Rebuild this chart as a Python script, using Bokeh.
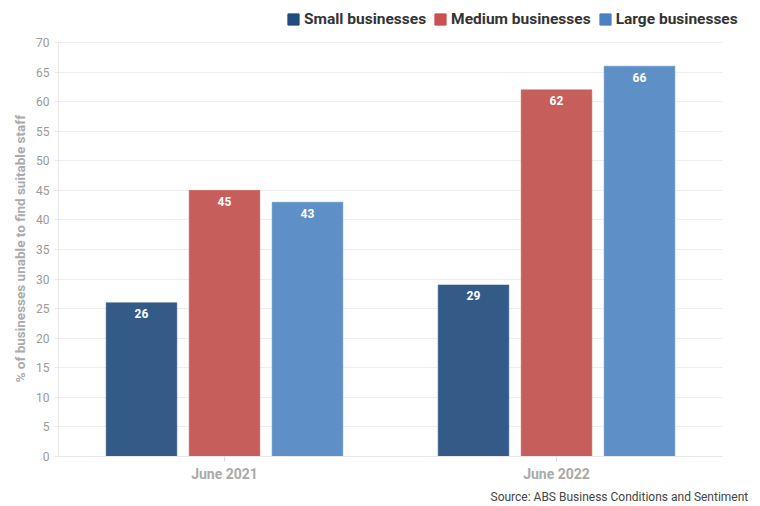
from bokeh.plotting import figure
from bokeh.models import (ColumnDataSource, Range1d, Legend, LegendItem, Title,
                          SingleIntervalTicker, FixedTicker, BoxAnnotation)
from bokeh.transform import dodge
from bokeh.core.properties import value
from bokeh.embed import file_html
from bokeh.resources import INLINE

periods = ["June 2021", "June 2022"]
series_names = ["Small businesses", "Medium businesses", "Large businesses"]
small = [26, 29]
medium = [45, 62]
large = [43, 66]
y_max = 70
y_label = "% of businesses unable to find suitable staff"
source_note = "Source: ABS Business Conditions and Sentiment"

bar_colors = ["#345a88", "#c65f5c", "#5f8fc7"]
legend_colors = ["#234b80", "#c9514f", "#4c80c2"]

n = len(periods)
centers = [i + 0.5 for i in range(n)]
src = ColumnDataSource(dict(xc=centers, small=small, medium=medium, large=large,
                            small_t=[str(v) for v in small],
                            medium_t=[str(v) for v in medium],
                            large_t=[str(v) for v in large]))

# frame: canvas top to the y=0 line; right side a little wider than the category area for the legend
top_pad = y_max * 42 / 414
right_pad = 30 / 332
p = figure(width=760, height=506, x_range=Range1d(0, n + right_pad),
           y_range=Range1d(0, y_max + top_pad), output_backend="svg", toolbar_location=None,
           min_border_left=58, min_border_right=8, min_border_top=0, min_border_bottom=50)
p.outline_line_color = None
p.background_fill_color = "white"
p.border_fill_color = "white"

for key, off, col in zip(["small", "medium", "large"], [-0.25, 0.0, 0.25], bar_colors):
    p.vbar(x=dodge("xc", off), top=key, width=0.213, source=src,
           fill_color=col, line_color=col, line_alpha=0.5, line_width=1)
    p.text(x=dodge("xc", off), y=key, text=key + "_t", source=src,
           text_color="white", text_font=value("Roboto"), text_font_style="bold",
           text_font_size="12px", text_align="center", text_baseline="middle", y_offset=11)

# keep the gridlines inside the category area
p.add_layout(BoxAnnotation(left=n, fill_color="white", fill_alpha=1, line_color=None))

# legend swatches (zero-size renderers carrying the legend colours)
leg_rs = []
for col in legend_colors:
    lr = p.vbar(x=[centers[0]], top=[0], width=0, fill_color=col, line_color=col)
    leg_rs.append(lr)
legend = Legend(items=[LegendItem(label=s, renderers=[r]) for s, r in zip(series_names, leg_rs)],
                orientation="horizontal", location=(228, 428), label_text_font="Roboto",
                label_text_font_style="bold", label_text_font_size="15.5px", label_text_color="#333333",
                glyph_width=14, glyph_height=14, label_standoff=4, spacing=7, padding=2,
                border_line_color=None, background_fill_alpha=0, margin=0)
p.add_layout(legend, "center")

p.yaxis.ticker = SingleIntervalTicker(interval=5)
p.yaxis.bounds = (0, y_max)
p.yaxis.major_label_text_font = "Roboto"
p.yaxis.major_label_text_font_size = "12px"
p.yaxis.major_label_text_color = "#9a9a9a"
p.yaxis.axis_line_color = "#e8e8e8"
p.yaxis.major_tick_line_color = "#e8e8e8"
p.yaxis.major_tick_out = 4
p.yaxis.major_tick_in = 0
p.yaxis.minor_tick_line_color = None

# y-axis title placed along the 0..70 span (frame extends above it)
ytitle = Title(text=y_label, align="left", offset=74, standoff=11,
               text_font="Roboto", text_font_size="13.5px", text_font_style="bold", text_color="#aaaaaa")
p.add_layout(ytitle, "left")

p.xaxis.ticker = FixedTicker(ticks=centers)
p.xaxis.major_label_overrides = {c: lab for c, lab in zip(centers, periods)}
p.xaxis.bounds = (0, n)
p.xaxis.major_label_text_font = "Roboto"
p.xaxis.major_label_text_font_style = "bold"
p.xaxis.major_label_text_font_size = "14px"
p.xaxis.major_label_text_color = "#aaaaaa"
p.xaxis.axis_line_color = "#e8e8e8"
p.xaxis.major_tick_line_color = "#dddddd"
p.xaxis.major_tick_out = 5
p.xaxis.major_tick_in = 0
p.xaxis.minor_tick_line_color = None
p.xaxis.major_label_standoff = 4

p.xgrid.grid_line_color = None
p.ygrid.grid_line_color = "#eeeeee"
p.ygrid.bounds = (0, y_max)

note = Title(text=source_note, align="left", offset=432, standoff=6,
             text_font="Roboto", text_font_size="12px", text_font_style="normal", text_color="#444444")
p.add_layout(note, "below")

open("out.html", "w").write(file_html(p, INLINE))
